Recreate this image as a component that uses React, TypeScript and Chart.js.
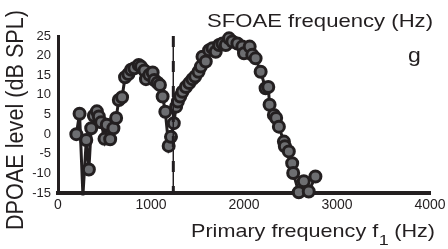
import React, { useEffect, useRef } from 'react';
import { Chart, registerables } from 'chart.js';

Chart.register(...registerables);

// ---- data ----
const freqHz = [
  197, 232, 268, 304, 332, 357, 386, 418, 439, 464, 500, 525, 561, 596, 625, 654, 689,
  721, 757, 786, 821, 868, 893, 929, 946, 982, 1018, 1036, 1071, 1096, 1125, 1154,
  1190, 1215, 1245, 1270, 1289, 1314, 1339, 1375, 1411, 1446, 1475, 1511, 1536, 1554,
  1589, 1625, 1661, 1696, 1732, 1768, 1804, 1839, 1875, 1929, 1982, 2000, 2061, 2089,
  2125, 2179, 2232, 2261, 2275, 2321, 2346, 2375, 2429, 2439, 2482, 2518, 2529, 2589,
  2643, 2696, 2768,
];
const levelDb = [
  0, 5.2, -15.6, -1.5, -9, 1.5, 4.7, 5.8, 4.5, 3.0, -1.2, 2.4, -1.3, 1.5, 4.1, 8.7, 9.4,
  14.5, 15.3, 16.4, 16.8, 17.6, 17.2, 16.2, 14.0, 15.1, 15.7, 13.8, 13.1, 12.5, 9.6, 5.7,
  -3.0, -0.7, 2.8, 7.0, 8.3, 9.6, 10.8, 12.0, 13.0, 14.0, 14.7, 15.9, 17.2, 19.7,
  18.5, 21.4, 21.9, 21.0, 22.7, 23.1, 22.7, 24.4, 23.6, 23.1, 22.3, 20.6, 22.3, 20.2,
  19.3, 15.9, 11.7, 12.0, 7.5, 4.9, 4.1, 1.9, -1.9, -3.1, -4.4, -7.4, -9.9, -14.8,
  -12.0, -14.6, -10.8,
];
const xTicks = [0, 1000, 2000, 3000, 4000];
const yTicks = [-15, -10, -5, 0, 5, 10, 15, 20, 25];
const boundaryHz = 1240;
const topTitle = 'SFOAE frequency (Hz)';
const panelLabel = 'g';
const yTitle = 'DPOAE level (dB SPL)';
const xTitleMain = 'Primary frequency f';
const xTitleSub = '1';
const xTitleEnd = ' (Hz)';

const DARK = '#231f20';
const GREY = '#6d6e71';
const FONT = "'Liberation Sans', Arial, Helvetica, sans-serif";

const textPlugin = {
  id: 'figureText',
  afterDraw(chart: any) {
    const ctx = chart.ctx as CanvasRenderingContext2D;
    ctx.save();
    ctx.fillStyle = DARK;
    ctx.textAlign = 'left';
    ctx.textBaseline = 'alphabetic';

    // top title, fitted width
    ctx.font = `18.5px ${FONT}`;
    {
      const w = ctx.measureText(topTitle).width;
      const left = 207, right = 433;
      ctx.save();
      ctx.translate(left, 27);
      ctx.scale((right - left) / w, 1);
      ctx.fillText(topTitle, 0, 0);
      ctx.restore();
    }

    // panel label
    ctx.font = `20px ${FONT}`;
    ctx.save();
    ctx.translate(408, 62);
    ctx.scale(1.15, 1);
    ctx.fillText(panelLabel, 0, 0);
    ctx.restore();

    // x title with subscript
    {
      const mainFont = `18.6px ${FONT}`;
      const subFont = `15.5px ${FONT}`;
      ctx.font = mainFont;
      const w1 = ctx.measureText(xTitleMain).width;
      const w3 = ctx.measureText(xTitleEnd).width;
      ctx.font = subFont;
      const w2 = ctx.measureText(xTitleSub).width;
      const left = 191, right = 435;
      ctx.save();
      ctx.translate(left, 237);
      ctx.scale((right - left) / (w1 + w2 + w3), 1);
      ctx.font = mainFont;
      ctx.fillText(xTitleMain, 0, 0);
      ctx.font = subFont;
      ctx.fillText(xTitleSub, w1 + 0.5, 8);
      ctx.font = mainFont;
      ctx.fillText(xTitleEnd, w1 + w2, 0);
      ctx.restore();
    }

    // y title rotated
    {
      ctx.font = `20.5px ${FONT}`;
      const w = ctx.measureText(yTitle).width;
      ctx.save();
      ctx.translate(16, 120);
      ctx.rotate(-Math.PI / 2);
      ctx.scale(220 / w, 1.15);
      ctx.textAlign = 'center';
      ctx.textBaseline = 'middle';
      ctx.fillText(yTitle, 0, 0);
      ctx.restore();
    }
    ctx.restore();
  },
};

export default function App() {
  const ref = useRef<HTMLCanvasElement | null>(null);

  useEffect(() => {
    if (!ref.current) return;
    const points = freqHz.map((x, i) => ({ x, y: levelDb[i] }));
    const chart = new Chart(ref.current, {
      type: 'line',
      data: {
        datasets: [
          {
            data: [
              { x: boundaryHz, y: 25 },
              { x: boundaryHz, y: -15 },
            ],
            borderColor: DARK,
            borderWidth: 1,
            pointRadius: 0,
            clip: false,
          },
          {
            data: [
              { x: boundaryHz, y: 25 },
              { x: boundaryHz, y: -15 },
            ],
            borderColor: DARK,
            borderWidth: 3,
            borderDash: [11, 14],
            borderCapStyle: 'butt',
            pointRadius: 0,
            clip: false,
          },
          {
            data: points,
            borderColor: DARK,
            borderWidth: 3,
            pointRadius: (c: any) => (c.raw && c.raw.y < -15 ? 0 : 5.5),
            pointBackgroundColor: GREY,
            pointBorderColor: DARK,
            pointBorderWidth: 3,
            tension: 0,
            clip: { left: 10, top: 10, right: 10, bottom: 8 } as any,
          },
        ],
      },
      options: {
        responsive: false,
        animation: false,
        events: [],
        layout: { padding: { top: 36, right: 18, left: 0, bottom: 0 } },
        plugins: {
          legend: { display: false },
          tooltip: { enabled: false },
          title: { display: false },
        },
        scales: {
          x: {
            type: 'linear',
            min: 0,
            max: 4000,
            afterBuildTicks: (s: any) => {
              s.ticks = xTicks.map((v) => ({ value: v }));
            },
            afterFit: (s: any) => {
              s.height = 56;
              s.paddingLeft = 0;
              s.paddingRight = 0;
            },
            grid: { display: false, drawTicks: false },
            border: { display: true, color: DARK, width: 4 },
            ticks: {
              color: DARK,
              padding: 4,
              maxRotation: 0,
              autoSkip: false,
              callback: (v: any) => String(v),
              font: { family: FONT, size: 14 },
            },
          },
          y: {
            type: 'linear',
            min: -15,
            max: 25,
            afterBuildTicks: (s: any) => {
              s.ticks = yTicks.map((v) => ({ value: v }));
            },
            afterFit: (s: any) => {
              s.width = 58;
              s.paddingTop = 0;
              s.paddingBottom = 0;
            },
            grid: { display: false, drawTicks: false },
            border: { display: true, color: DARK, width: 3 },
            ticks: {
              color: DARK,
              padding: 7,
              autoSkip: false,
              callback: (v: any) => String(v),
              font: { family: FONT, size: 13 },
            },
          },
        },
      },
      plugins: [textPlugin],
    } as any);
    return () => chart.destroy();
  }, []);

  return (
    <div style={{ position: 'fixed', left: 0, top: 0, width: 448, height: 249, background: '#fff' }}>
      <canvas ref={ref} width={448} height={249} style={{ width: 448, height: 249 }} />
    </div>
  );
}
